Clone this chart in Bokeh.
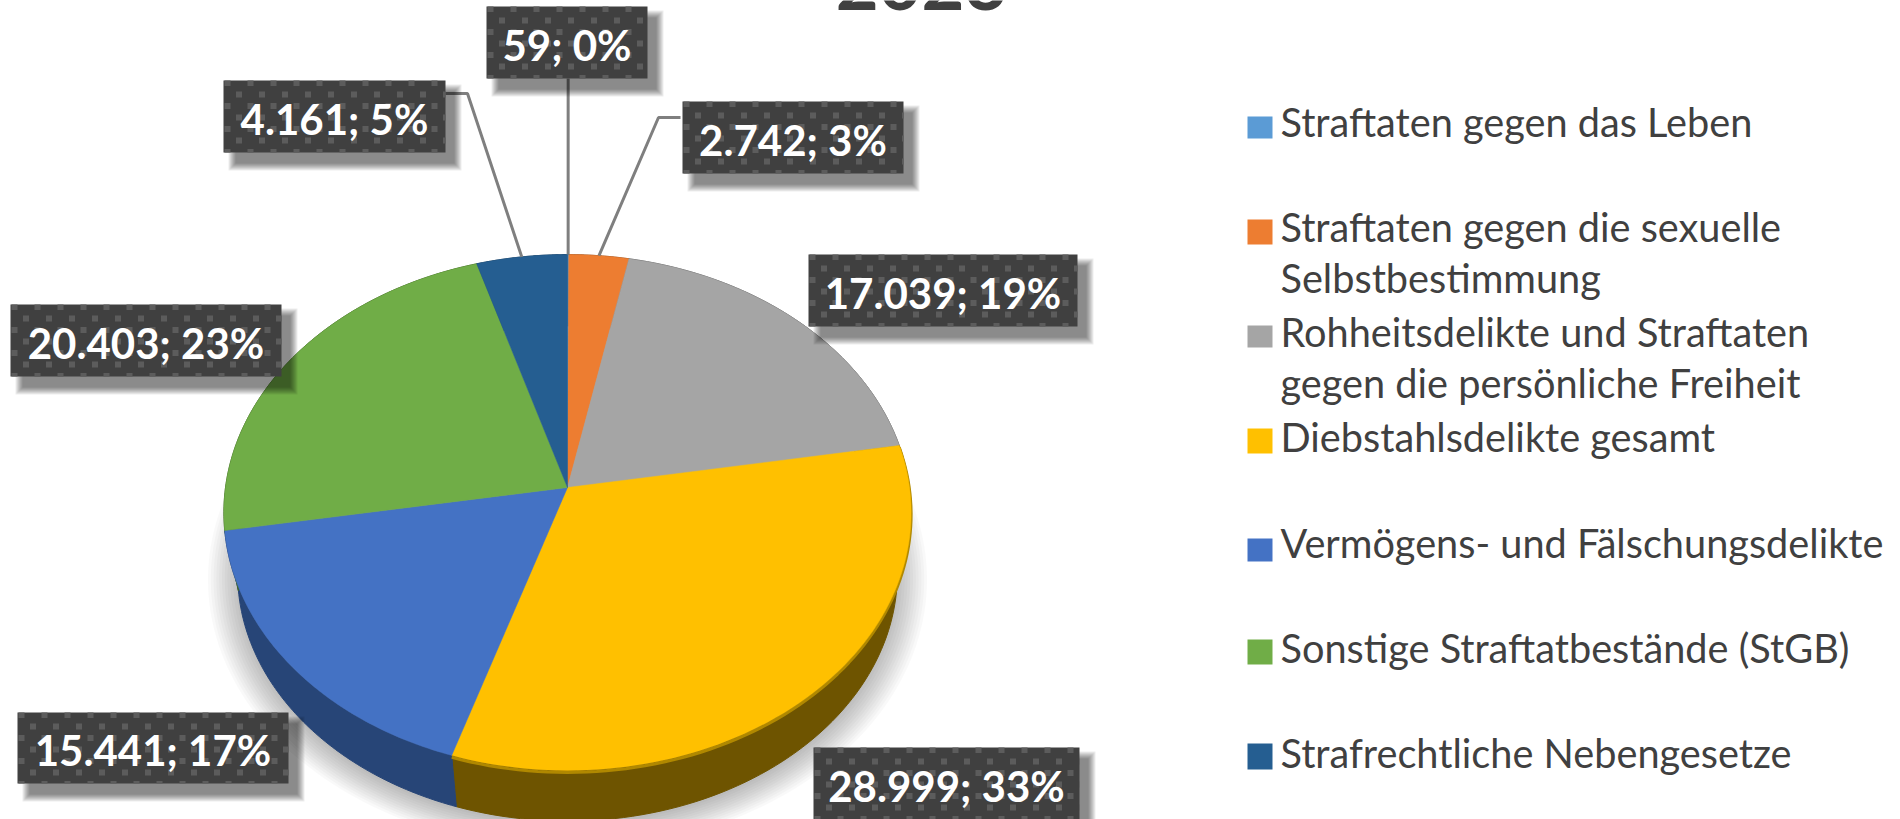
import numpy as np
from bokeh.plotting import figure
from bokeh.models import Range1d
from bokeh.core.properties import value
from bokeh.embed import file_html
from bokeh.resources import INLINE

title = "2023"
categories = ["Straftaten gegen das Leben",
              "Straftaten gegen die sexuelle Selbstbestimmung",
              "Rohheitsdelikte und Straftaten gegen die persönliche Freiheit",
              "Diebstahlsdelikte gesamt",
              "Vermögens- und Fälschungsdelikte",
              "Sonstige Straftatbestände (StGB)",
              "Strafrechtliche Nebengesetze"]
values = [59, 2742, 17039, 28999, 15441, 20403, 4161]
colors = ["#5B9BD5", "#ED7D31", "#A5A5A5", "#FFC000", "#4472C4", "#70AD47", "#255E91"]
side_colors = ["#2F5F8A", "#8A4A1C", "#636363", "#6E5400", "#274577", "#43682A", "#163A5C"]
legend_lines = [["Straftaten gegen das Leben"],
                ["Straftaten gegen die sexuelle", "Selbstbestimmung"],
                ["Rohheitsdelikte und Straftaten", "gegen die persönliche Freiheit"],
                ["Diebstahlsdelikte gesamt"],
                ["Vermögens- und Fälschungsdelikte"],
                ["Sonstige Straftatbestände (StGB)"],
                ["Strafrechtliche Nebengesetze"]]

# layout, in page pixels of the 1900x819 picture
CX, CY, A, B, K = 567, 487, 342, 255.5, 0.097
S, DY = 0.96, 62
label_boxes = [(486, 647, 6, 78), (682, 903, 101, 173), (808, 1077, 254, 326),
               (813, 1079, 747, 819), (17, 288, 712, 783), (10, 281, 304, 376),
               (223, 445, 80, 152)]
elbows = {0: [], 1: [(658, 117), (680, 117)], 6: [(467, 93), (445, 93)]}
legend_boxes = [(116, 138), (219, 244), (325, 347), (428, 453), (538, 561), (639, 664), (743, 769)]
legend_base = [[137], [242, 293], [347, 398], [452], [558], [663], [768]]
BASE_SHIFT = 0.4  # em: where the renderer puts the baseline of a text

total = sum(values)
cum = np.concatenate([[0], np.cumsum(values)]) / total * 2 * np.pi


def proj(t, scale=1.0, dy=0.0):
    u, v = np.sin(t), -np.cos(t)
    den = 1 - K * v
    return CX + scale * A * u / den, CY + dy + scale * B * v / den


p = figure(width=1900, height=819, x_range=Range1d(0, 1900), y_range=Range1d(819, 0),
           output_backend="svg", toolbar_location=None, x_axis_type=None, y_axis_type=None,
           min_border=0, outline_line_color=None, background_fill_color="white",
           border_fill_color="white")
p.grid.visible = False

full = np.linspace(0, 2 * np.pi, 241)

# soft shadow below the pie
for f in np.linspace(1.09, 0.98, 14):
    sx, sy = proj(full, S * f, DY + 4)
    p.patch(sx, sy, fill_color="#000000", fill_alpha=0.022, line_color=None)

# side wall
for i in range(len(values)):
    t = np.linspace(cum[i], cum[i + 1], 80)
    x0, y0 = proj(t)
    x1, y1 = proj(t, S, DY)
    p.patch(np.r_[x0, x1[::-1]], np.r_[y0, y1[::-1]], fill_color=side_colors[i],
            line_color=side_colors[i], line_width=1)

# top face
for i in range(len(values)):
    t = np.linspace(cum[i], cum[i + 1], 80)
    x0, y0 = proj(t)
    if colors[i] == "#FFC000":
        p.line(x0, y0 + 2, line_color="#B08800", line_width=3)
    p.patch(np.r_[CX, x0], np.r_[CY, y0], fill_color=colors[i], line_color=colors[i], line_width=0.5)

# leader lines
for i, pts in elbows.items():
    tx, ty = proj((cum[i] + cum[i + 1]) / 2)
    box = label_boxes[i]
    if pts:
        xs = [float(tx)] + [q[0] for q in pts]
        ys = [float(ty)] + [q[1] for q in pts]
    else:
        xs = [float(tx), float(tx)]
        ys = [float(ty), box[3]]
    p.line(xs, ys, line_color="#7F7F7F", line_width=3)

# data labels
texts = []
for v in values:
    texts.append(f"{v:,}".replace(",", ".") + f"; {round(v / total * 100)}%")
LABEL_SIZE = 42
for (l, r, t, b), s in zip(label_boxes, texts):
    for g in range(8):
        p.quad(left=l + 5 + g, right=r + 16 - g, top=t + 4 + g, bottom=b + 18 - g,
               fill_color="#000000", fill_alpha=0.07, line_color=None)
    p.quad(left=l, right=r, top=t, bottom=b, fill_color="#404040", line_color=None)
    dl, dr, dt, db = [], [], [], []
    for row, yc in enumerate(np.arange(t + 2.5, b + 3, 11.5)):
        for xc in np.arange(l + 4 + (row % 2) * 11.5, r + 3, 23):
            dl.append(max(xc - 3, l)); dr.append(min(xc + 3, r))
            dt.append(max(yc - 3, t)); db.append(min(yc + 3, b))
    p.quad(left=dl, right=dr, top=dt, bottom=db, fill_color="#5C5C5C", line_color=None)
    p.text(x=[(l + r) / 2], y=[(t + b) / 2 + 19 - BASE_SHIFT * LABEL_SIZE], text=[s], text_color="white",
           text_font=value("Lato"), text_font_style="bold", text_font_size=f"{LABEL_SIZE}px",
           text_align="center", text_baseline="alphabetic")

# legend
LEGEND_SIZE = 39.7
for (top, bot), lines, bases, c in zip(legend_boxes, legend_lines, legend_base, colors):
    p.quad(left=1247, right=1272, top=top, bottom=bot, fill_color=c, line_color=None)
    for s, y in zip(lines, bases):
        p.text(x=[1280], y=[y - BASE_SHIFT * LEGEND_SIZE], text=[s], text_color="#404040", text_font=value("Lato"),
               text_font_size=f"{LEGEND_SIZE}px", text_align="left", text_baseline="alphabetic")

# title
TITLE_SIZE = 74
p.text(x=[921], y=[12 - BASE_SHIFT * TITLE_SIZE], text=[title], text_color="#404040", text_font=value("Lato"),
       text_font_style="bold", text_font_size=f"{TITLE_SIZE}px", text_align="center", text_baseline="alphabetic")

open("out.html", "w").write(file_html(p, INLINE))
